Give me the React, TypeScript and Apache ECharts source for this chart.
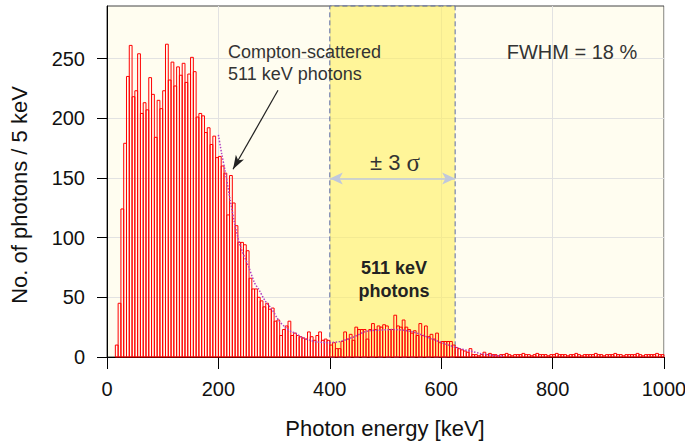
import React, { useEffect, useRef } from "react";
import * as echarts from "echarts";

// Histogram: photon counts per 5 keV bin, first bin starts at 15 keV
const BIN_START = 15;
const BIN_WIDTH = 5;
const counts: number[] = [
  10, 45, 124, 179, 235, 261, 218, 223, 254, 204,
  213, 207, 234, 220, 184, 215, 208, 223, 262, 232,
  247, 227, 243, 236, 246, 230, 237, 251, 239, 201,
  204, 202, 188, 192, 178, 185, 167, 168, 160, 154,
  119, 152, 129, 110, 96, 96, 94, 89, 66, 57,
  57, 50, 47, 42, 45, 40, 41, 30, 31, 18,
  23, 26, 30, 18, 20, 18, 17, 16, 15, 21,
  17, 14, 18, 21, 14, 15, 14, 10, 12, 7,
  7, 13, 21, 15, 19, 14, 25, 23, 23, 23,
  15, 23, 28, 23, 26, 25, 27, 26, 23, 23,
  35, 26, 25, 31, 25, 23, 20, 22, 18, 28,
  18, 26, 17, 19, 15, 20, 12, 13, 13, 13,
  13, 10, 8, 7, 6, 5, 4, 7, 2, 2,
  1, 2, 4, 2, 3,
  2, 2, 1, 2, 2, 3, 2, 1, 2, 2,
  2, 3, 2, 2, 1, 2, 3, 2, 2, 2,
  1, 2, 2, 3, 2, 2, 2, 1, 2, 2,
  3, 2, 1, 2, 2, 2, 2, 3, 2, 2,
  1, 2, 2, 2, 3, 2, 2, 1, 2, 2,
  2, 2, 3, 2, 1, 2, 2, 2, 2, 3,
  2, 2,
];

// Dotted fit curve
const fitEnergy: number[] = [200, 206, 212, 221, 230, 240, 254, 265, 272, 284, 296, 305, 311, 320, 329, 338, 352, 365, 376, 397, 418, 442, 466, 490, 514, 544, 568, 586, 610, 634, 652, 670, 690, 710];
const fitValue: number[] = [186, 170, 156, 132, 110, 92, 76, 62, 57, 47, 40, 33, 29, 25, 21.6, 20, 16, 14, 12.7, 12, 13, 16.6, 21.6, 22.5, 23, 21.6, 18, 14.7, 10.5, 7, 5, 3, 1.5, 0.8];

const xTicks = [0, 200, 400, 600, 800, 1000];
const yTicks = [0, 50, 100, 150, 200, 250];

const band = [400, 625];
const sigmaArrowY = 149.5;
const comptonArrow = [[307, 223.4], [226.2, 157.2]];

const FONT = '"Liberation Sans", Arial, sans-serif';

export default function App() {
  const ref = useRef<HTMLDivElement>(null);
  useEffect(() => {
    if (!ref.current) return;
    const chart = echarts.init(ref.current, null, { renderer: "svg" });
    const histData = counts.map((c, i) => [BIN_START + i * BIN_WIDTH, c]);
    const fitData = fitEnergy.map((e, i) => [e, fitValue[i]]);
    const option: any = {
      animation: false,
      backgroundColor: "#ffffff",
      textStyle: { fontFamily: FONT },
      grid: {
        left: 107,
        right: 21,
        top: 6,
        bottom: 88,
        containLabel: false,
        outerBoundsMode: "none",
        show: true,
        backgroundColor: "#fffdf0",
        borderColor: "#444",
        borderWidth: 1,
      },
      xAxis: {
        type: "value",
        min: 0,
        max: 1000,
        interval: 200,
        axisLine: { show: true, onZero: false, lineStyle: { color: "#000", width: 1 } },
        axisTick: { show: true, length: 12, lineStyle: { color: "#000" }, customValues: xTicks },
        axisLabel: { fontSize: 20, color: "#111", margin: 22, fontFamily: FONT, customValues: xTicks, formatter: (v: number) => String(v) },
        splitLine: { show: true, lineStyle: { color: "#e2e2e2", width: 1 } },
      },
      yAxis: {
        type: "value",
        min: 0,
        max: 294,
        interval: 50,
        axisLine: { show: true, lineStyle: { color: "#000", width: 1 } },
        axisTick: { show: true, length: 10, lineStyle: { color: "#000" }, customValues: yTicks },
        axisLabel: { fontSize: 20, color: "#111", margin: 22, fontFamily: FONT, customValues: yTicks, formatter: (v: number) => String(v) },
        splitLine: { show: true, lineStyle: { color: "#e2e2e2", width: 1 } },
      },
      series: [
        {
          type: "custom",
          z: 2,
          data: histData,
          encode: { x: 0, y: 1 },
          renderItem: (params: any, api: any) => {
            const x0 = api.value(0) as number;
            const v = api.value(1) as number;
            const tl = api.coord([x0, v]);
            const br = api.coord([x0 + BIN_WIDTH, 0]);
            return {
              type: "rect",
              shape: { x: tl[0], y: tl[1], width: br[0] - tl[0], height: br[1] - tl[1] },
              style: { fill: "rgba(255,255,255,0)", stroke: "#ff0000", lineWidth: 1 },
            };
          },
        },
        {
          type: "line",
          z: 3,
          data: fitData,
          showSymbol: false,
          smooth: 0.3,
          lineStyle: { color: "#b040c0", width: 1.5, type: "dotted" },
          markArea: {
            silent: true,
            itemStyle: {
              color: "rgba(255, 240, 90, 0.58)",
              borderColor: "#5a6aa8",
              borderWidth: 1,
              borderType: [5, 3],
            },
            label: { show: false },
            data: [[{ xAxis: band[0], yAxis: 0 }, { xAxis: band[1], yAxis: 294 }]],
          },
          markLine: {
            silent: true,
            label: { show: false },
            data: [
              [
                { coord: [band[0], sigmaArrowY], symbol: "arrow", symbolSize: [9, 13], lineStyle: { color: "#c0c8dc", width: 1.5, type: "solid" }, itemStyle: { color: "#c0c8dc" } },
                { coord: [band[1], sigmaArrowY], symbol: "arrow", symbolSize: [9, 13] },
              ],
              [
                { coord: comptonArrow[0], symbol: "none", lineStyle: { color: "#222", width: 1.2, type: "solid" }, itemStyle: { color: "#222" } },
                { coord: comptonArrow[1], symbol: "arrow", symbolSize: [7, 14] },
              ],
            ],
          },
        },
      ],
      graphic: [
        { type: "text", x: 228, y: 52, z: 10, style: { text: "Compton-scattered", fontSize: 18, fontFamily: FONT, fill: "#333", textAlign: "left", textVerticalAlign: "middle" } },
        { type: "text", x: 228, y: 74, z: 10, style: { text: "511 keV photons", fontSize: 18, fontFamily: FONT, fill: "#333", textAlign: "left", textVerticalAlign: "middle" } },
        { type: "text", x: 572, y: 52, z: 10, style: { text: "FWHM = 18 %", fontSize: 20, fontFamily: FONT, fill: "#333", textAlign: "center", textVerticalAlign: "middle" } },
        { type: "text", x: 394, y: 268, z: 10, style: { text: "511 keV", fontSize: 18, fontWeight: "bold", fontFamily: FONT, fill: "#222", textAlign: "center", textVerticalAlign: "middle" } },
        { type: "text", x: 394, y: 291, z: 10, style: { text: "photons", fontSize: 18, fontWeight: "bold", fontFamily: FONT, fill: "#222", textAlign: "center", textVerticalAlign: "middle" } },
        {
          type: "text", x: 395, y: 162, z: 10,
          style: {
            text: "{a|± 3 }{b|σ}",
            textAlign: "center", textVerticalAlign: "middle",
            rich: {
              a: { fontSize: 22, fontFamily: FONT, fill: "#333" },
              b: { fontSize: 25, fontFamily: '"Liberation Serif", serif', fill: "#333" },
            },
          },
        },
        { type: "text", x: 19, y: 195, rotation: Math.PI / 2, z: 10, style: { text: "No. of photons / 5 keV", fontSize: 22, fontFamily: FONT, fill: "#111", textAlign: "center", textVerticalAlign: "middle" } },
        { type: "text", x: 385, y: 428, z: 10, style: { text: "Photon energy [keV]", fontSize: 22, fontFamily: FONT, fill: "#111", textAlign: "center", textVerticalAlign: "middle" } },
      ],
    };
    chart.setOption(option);
    return () => chart.dispose();
  }, []);
  return <div ref={ref} style={{ position: "absolute", left: 0, top: 0, width: 685, height: 445 }} />;
}
